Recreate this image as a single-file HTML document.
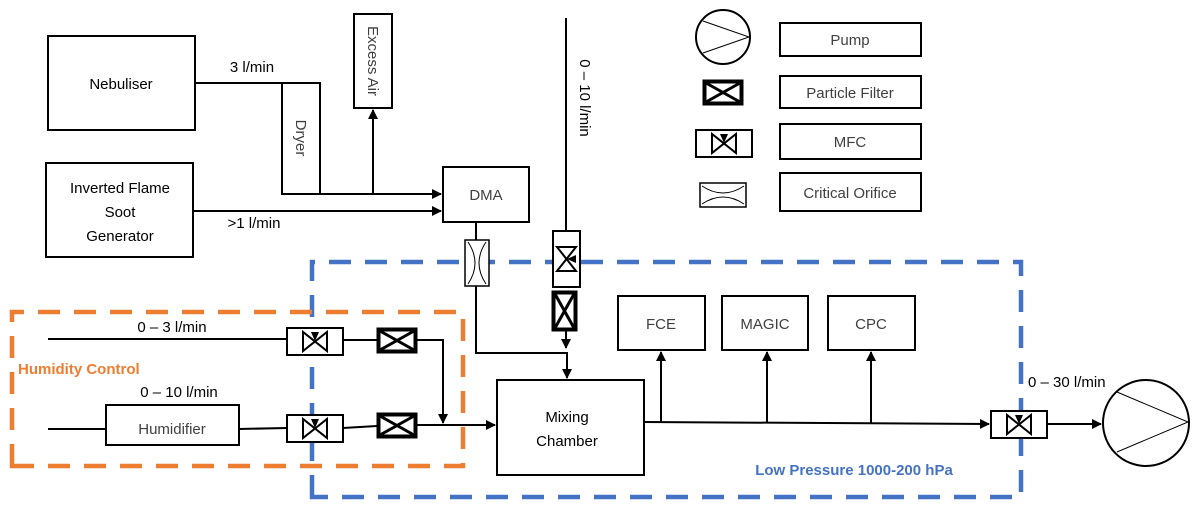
<!DOCTYPE html>
<html><head><meta charset="utf-8"><style>
html,body{margin:0;padding:0;background:#fff}
svg{display:block}
text{font-family:"Liberation Sans",sans-serif;font-size:15px}
</style></head><body>
<svg width="1200" height="510" viewBox="0 0 1200 510" xmlns="http://www.w3.org/2000/svg">
<defs>
<marker id="a" markerWidth="10" markerHeight="10" refX="9" refY="5" orient="auto" markerUnits="userSpaceOnUse"><path d="M0,0 L10,5 L0,10 Z" fill="#000"/></marker>
<g id="mfc">
 <rect x="0" y="0" width="56" height="27" fill="#fff" stroke="#000" stroke-width="2"/>
 <path d="M16,4 L16,23 L40,4 L40,23 Z" fill="none" stroke="#000" stroke-width="2"/>
 <path d="M24,4 L32,4 L28,13 Z" fill="#000"/>
</g>
<g id="filt">
 <rect x="1.5" y="1.5" width="37" height="22" fill="#fff" stroke="#000" stroke-width="4"/>
 <path d="M3,3 L37,22 M3,22 L37,3" stroke="#000" stroke-width="3"/>
</g>
<g id="orif">
 <rect x="0" y="0" width="46" height="24" fill="#fff" stroke="#000" stroke-width="1.5"/>
 <path d="M2,3 Q23,17 44,3 M2,21 Q23,7 44,21" fill="none" stroke="#000" stroke-width="1"/>
</g>
</defs>

<path d="M312,497 L312,262 L1021,262 L1021,497 Z" fill="none" stroke="#4472c4" stroke-width="4.5" stroke-dasharray="22,14"/>
<path d="M12,466 L12,312 L463,312 L463,466 Z" fill="none" stroke="#ed7d31" stroke-width="4.5" stroke-dasharray="22,14"/>

<g fill="none" stroke="#000" stroke-width="2">
 <rect x="48" y="36" width="147" height="94"/>
 <rect x="46" y="163" width="147" height="94"/>
 <rect x="282" y="83" width="38" height="111"/>
 <rect x="354" y="14" width="38" height="94"/>
 <rect x="443" y="167" width="86" height="55"/>
 <path d="M195,83 L282,83"/>
 <path d="M282,194 L441,194" marker-end="url(#a)"/>
 <path d="M373,194 L373,110" marker-end="url(#a)"/>
 <path d="M193,211 L441,211" marker-end="url(#a)"/>
 <path d="M566,18 L566,232"/>
 <path d="M566,329 L566,348" marker-end="url(#a)"/>
 <path d="M476,222 L476,353 L567,353 L567,378" marker-end="url(#a)"/>
 <rect x="497" y="380" width="147" height="95"/>
 <path d="M48,339 L287,339"/>
 <path d="M343,340 L377,340"/>
 <path d="M417,340 L443,340 L443,423" marker-end="url(#a)"/>
 <path d="M48,429 L106,429"/>
 <rect x="106" y="405" width="133" height="40"/>
 <path d="M239,429 L287,428"/>
 <path d="M343,428 L377,426"/>
 <path d="M417,425 L495,425" marker-end="url(#a)"/>
 <rect x="618" y="296" width="87" height="54"/>
 <rect x="722" y="296" width="86" height="54"/>
 <rect x="828" y="296" width="87" height="54"/>
 <path d="M644,422 L989,424" marker-end="url(#a)"/>
 <path d="M661,422 L661,352" marker-end="url(#a)"/>
 <path d="M767,423 L767,352" marker-end="url(#a)"/>
 <path d="M871,423 L871,352" marker-end="url(#a)"/>
 <path d="M1047,424 L1101,424" marker-end="url(#a)"/>
 <ellipse cx="1146" cy="423" rx="43" ry="43"/>
 <circle cx="723" cy="37" r="27"/>
 <rect x="780" y="23" width="141" height="33"/>
 <rect x="780" y="76" width="141" height="32"/>
 <rect x="780" y="124" width="141" height="35"/>
 <rect x="780" y="173" width="141" height="38"/>
</g>
<path d="M1117,392 L1188,422 L1117,452" fill="none" stroke="#000" stroke-width="1"/>
<path d="M703,21 L749,37 L703,53" fill="none" stroke="#000" stroke-width="1"/>

<use href="#mfc" x="287" y="328"/>
<use href="#mfc" x="287" y="415"/>
<use href="#filt" x="377" y="328"/>
<use href="#filt" x="377" y="413"/>
<use href="#mfc" x="991" y="411"/>
<g transform="translate(580,231) rotate(90)"><use href="#mfc"/></g>
<g transform="translate(577,291) rotate(90)"><use href="#filt"/></g>
<g transform="translate(489,240) rotate(90)"><use href="#orif"/></g>
<use href="#filt" x="703" y="80"/>
<use href="#mfc" x="696" y="130"/>
<use href="#orif" x="700" y="183"/>

<g fill="#000">
 <text x="121" y="89" text-anchor="middle">Nebuliser</text>
 <text x="120" y="193" text-anchor="middle">Inverted Flame</text>
 <text x="120" y="217" text-anchor="middle">Soot</text>
 <text x="120" y="241" text-anchor="middle">Generator</text>
 <text x="252" y="72" text-anchor="middle">3 l/min</text>
 <text x="254" y="228" text-anchor="middle">&gt;1 l/min</text>
 <text transform="translate(580,98) rotate(90)" text-anchor="middle">0 – 10 l/min</text>
 <text x="172" y="332" text-anchor="middle">0 – 3 l/min</text>
 <text x="179" y="397" text-anchor="middle">0 – 10 l/min</text>
 <text x="567" y="422" text-anchor="middle">Mixing</text>
 <text x="567" y="446" text-anchor="middle">Chamber</text>
 <text x="1028" y="387">0 – 30 l/min</text>
</g>
<g fill="#404040">
 <text transform="translate(296,138) rotate(90)" text-anchor="middle">Dryer</text>
 <text transform="translate(368,61) rotate(90)" text-anchor="middle">Excess Air</text>
 <text x="486" y="200" text-anchor="middle">DMA</text>
 <text x="172" y="434" text-anchor="middle">Humidifier</text>
 <text x="661" y="329" text-anchor="middle">FCE</text>
 <text x="765" y="329" text-anchor="middle">MAGIC</text>
 <text x="871" y="329" text-anchor="middle">CPC</text>
 <text x="850" y="45" text-anchor="middle">Pump</text>
 <text x="850" y="98" text-anchor="middle">Particle Filter</text>
 <text x="850" y="147" text-anchor="middle">MFC</text>
 <text x="850" y="198" text-anchor="middle">Critical Orifice</text>
</g>
<text x="18" y="374" fill="#ed7d31" font-weight="bold">Humidity Control</text>
<text x="854" y="475" fill="#4472c4" font-weight="bold" text-anchor="middle">Low Pressure 1000-200 hPa</text>
</svg>
</body></html>
